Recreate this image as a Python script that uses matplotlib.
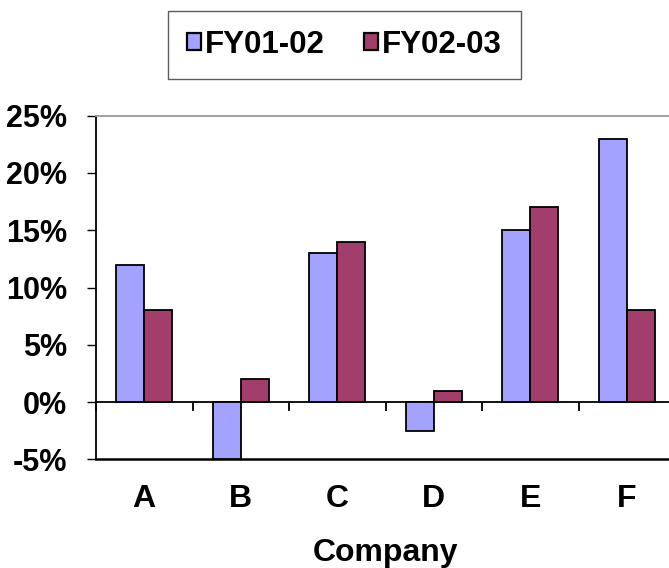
import matplotlib
matplotlib.use("Agg")
import matplotlib.pyplot as plt
from matplotlib.patches import Patch
import numpy as np

categories = ["A", "B", "C", "D", "E", "F"]
fy0102 = [12, -5, 13, -2.5, 15, 23]
fy0203 = [8, 2, 14, 1, 17, 8]
series_names = ["FY01-02", "FY02-03"]
yticks = [-5, 0, 5, 10, 15, 20, 25]
ytick_labels = ["-5%", "0%", "5%", "10%", "15%", "20%", "25%"]

c1 = "#A3A3FF"
c2 = "#A23E6C"

plt.rcParams['font.family'] = ['Liberation Sans', 'DejaVu Sans']
plt.rcParams['font.weight'] = 'bold'

fig = plt.figure(figsize=(6.69, 5.68), dpi=100)
W, H = 669, 568
left, right, top, bottom = 96, 675, 115.7, 459.3
ax = fig.add_axes([left / W, (H - bottom) / H, (right - left) / W, (bottom - top) / H])

x = np.arange(len(categories))
bw = 0.29
ax.bar(x - bw / 2, fy0102, bw, color=c1, edgecolor="black", linewidth=1.3, zorder=3)
ax.bar(x + bw / 2, fy0203, bw, color=c2, edgecolor="black", linewidth=1.3, zorder=3)

ax.set_xlim(-0.5, len(categories) - 0.5)
ax.set_ylim(-5, 25)
ax.set_yticks(yticks)
ax.set_yticklabels(ytick_labels, fontsize=22, fontweight='bold')
ax.tick_params(axis='y', direction='out', length=6.5, width=1.0, pad=14.5, color='black')

ax.set_xticks(x)
ax.set_xticklabels(categories, fontsize=23, fontweight='bold')
ax.tick_params(axis='x', length=0, pad=18)
ax.set_xlabel("Company", fontsize=23, fontweight='bold', labelpad=17)

ax.spines["right"].set_visible(False)
ax.spines["top"].set_color("#999999")
ax.spines["top"].set_linewidth(1.3)
ax.spines["left"].set_linewidth(1.3)
ax.spines["bottom"].set_linewidth(1.8)
ax.spines["bottom"].set_color("black")

# zero line axis with ticks at category boundaries
sec = ax.secondary_xaxis(0, transform=ax.transData)
sec.set_xticks(np.arange(len(categories) + 1) - 0.5)
sec.set_xticklabels([""] * (len(categories) + 1))
sec.tick_params(direction='out', length=6.8, width=1.3, color='black')
sec.spines["bottom"].set_linewidth(1.3)
sec.spines["bottom"].set_zorder(5)

handles = [Patch(facecolor=c1, edgecolor="black", linewidth=1.6),
           Patch(facecolor=c2, edgecolor="black", linewidth=1.6)]
leg = fig.legend(handles, series_names, loc="center", bbox_to_anchor=(344.5 / W, 1 - 45 / H),
                 ncol=2, frameon=True, fancybox=False,
                 handlelength=0.45, handleheight=0.45, handletextpad=0.12,
                 columnspacing=1.25, borderpad=0.62, borderaxespad=0,
                 prop={'weight': 'bold', 'size': 22.5})
leg.get_frame().set_edgecolor("#333333")
leg.get_frame().set_linewidth(1.0)

fig.savefig("out.png", dpi=100)
